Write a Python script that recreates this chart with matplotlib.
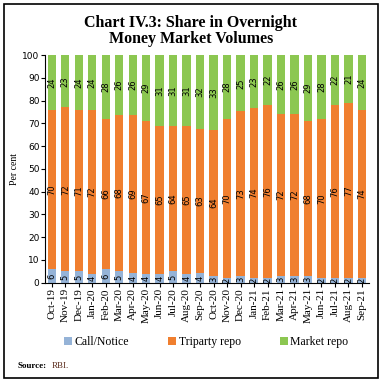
import matplotlib.pyplot as plt
import numpy as np

months = ['Oct-19', 'Nov-19', 'Dec-19', 'Jan-20', 'Feb-20', 'Mar-20', 'Apr-20', 'May-20',
          'Jun-20', 'Jul-20', 'Aug-20', 'Sep-20', 'Oct-20', 'Nov-20', 'Dec-20', 'Jan-21',
          'Feb-21', 'Mar-21', 'Apr-21', 'May-21', 'Jun-21', 'Jul-21', 'Aug-21', 'Sep-21']
call_notice = [6, 5, 5, 4, 6, 5, 4, 4, 4, 5, 4, 4, 3, 2, 3, 2, 2, 3, 3, 3, 2, 2, 2, 2]
triparty = [70, 72, 71, 72, 66, 68, 69, 67, 65, 64, 65, 63, 64, 70, 73, 74, 76, 72, 72, 68, 70, 76, 77, 74]
market = [24, 23, 24, 24, 28, 26, 26, 29, 31, 31, 31, 32, 33, 28, 25, 23, 22, 26, 26, 29, 28, 22, 21, 24]

c_call = '#95B3D7'
c_tri = '#F07F2F'
c_mkt = '#8CC751'

fig = plt.figure(figsize=(3.82, 3.83), dpi=100)
ax = fig.add_axes([0.118, 0.262, 0.847, 0.594])

x = np.arange(len(months))
call = np.array(call_notice, dtype=float)
tri = np.array(triparty, dtype=float)
mkt = np.array(market, dtype=float)
# shares are rounded, so rescale each month to a full 100
tot = call + tri + mkt
call_s = call / tot * 100
tri_s = tri / tot * 100
mkt_s = mkt / tot * 100

ax.bar(x, call_s, width=0.62, color=c_call, label='Call/Notice')
ax.bar(x, tri_s, width=0.62, bottom=call_s, color=c_tri, label='Triparty repo')
ax.bar(x, mkt_s, width=0.62, bottom=call_s + tri_s, color=c_mkt, label='Market repo')

for i in x:
    ax.text(i, call_s[i] / 2, call_notice[i], rotation=90, ha='center', va='center', fontsize=6)
    ax.text(i, call_s[i] + tri_s[i] / 2, triparty[i], rotation=90, ha='center', va='center', fontsize=6)
    ax.text(i, call_s[i] + tri_s[i] + mkt_s[i] / 2, market[i], rotation=90, ha='center', va='center', fontsize=6)

ax.set_xlim(-0.5, len(months) - 0.5)
ax.set_ylim(0, 100)
ax.set_yticks(range(0, 101, 10))
ax.tick_params(axis='y', labelsize=6.5, length=3, pad=1)
ax.set_xticks(x)
ax.set_xticklabels(months, rotation=90, fontsize=8, family='Liberation Serif')
ax.tick_params(axis='x', length=3, pad=1)
ax.spines['top'].set_visible(False)
ax.spines['right'].set_visible(False)
ax.set_ylabel('Per cent', fontsize=7, family='Liberation Serif', labelpad=2)

fig.text(0.5, 0.96, 'Chart IV.3: Share in Overnight\nMoney Market Volumes', ha='center', va='top',
         fontsize=11.5, fontweight='bold', family='Liberation Serif', linespacing=1.0)

fig.legend(loc='center', bbox_to_anchor=(0.54, 0.107), ncol=3, frameon=False,
           prop={'family': 'Liberation Serif', 'size': 8.5}, handlelength=0.7, handleheight=0.7,
           handletextpad=0.2, columnspacing=3.3)

fig.text(0.045, 0.04, 'Source:', fontsize=6.5, fontweight='bold', family='Liberation Serif')
fig.text(0.135, 0.04, 'RBI.', fontsize=6.5, family='Liberation Serif', color='#5A2A1A')

fig.add_artist(plt.Rectangle((0.0105, 0.013), 0.979, 0.977, transform=fig.transFigure,
                             fill=False, edgecolor='black', linewidth=1.2))

fig.savefig('out.png', dpi=100)
